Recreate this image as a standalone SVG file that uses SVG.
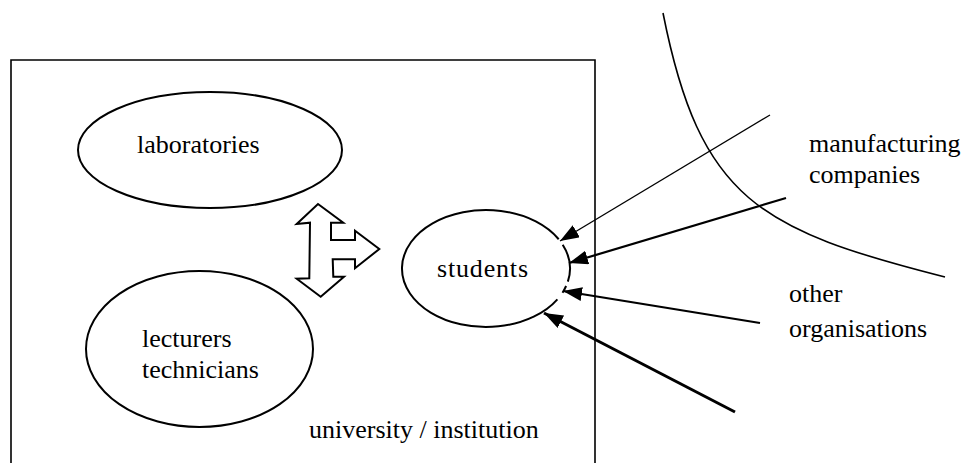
<svg xmlns="http://www.w3.org/2000/svg" width="966" height="463" viewBox="0 0 966 463">
<style>
  .t { font-family: 'Liberation Serif', 'Times New Roman', Times, 'DejaVu Serif', 'Noto Serif', serif; font-size: 26px; fill: #000; }
  .sh { fill: none; stroke: #000; stroke-width: 2; }
  .ln { fill: none; stroke: #000; }
</style>
<defs>
  <marker id="ah" markerUnits="userSpaceOnUse" markerWidth="22" markerHeight="16" refX="19" refY="7" orient="auto">
    <path d="M0,0 L19,7 L0,14 z" fill="#000"/>
  </marker>
</defs>
<rect width="966" height="463" fill="#fff"/>

<g id="university">
  <path class="ln" stroke-width="1.6" d="M11,470 V60 H595 V470"/>
  <text class="t" font-family="Liberation Serif, DejaVu Serif, serif" x="309" y="438">university / institution</text>
</g>

<g id="laboratories">
  <ellipse class="sh" cx="210" cy="150" rx="132" ry="58"/>
  <text class="t" font-family="Liberation Serif, DejaVu Serif, serif" x="137" y="153">laboratories</text>
</g>

<g id="lecturers">
  <ellipse class="sh" cx="199.5" cy="349" rx="113.5" ry="78"/>
  <text class="t" font-family="Liberation Serif, DejaVu Serif, serif" x="142" y="347">lecturers</text>
  <text class="t" font-family="Liberation Serif, DejaVu Serif, serif" x="142" y="378">technicians</text>
</g>

<g id="students">
  <path class="sh" d="M557.4,299.3 A84,58.5 0 1 1 558.7,239.25 M562.7,244.7 A84,58.5 0 0 1 567.85,281.66 M566.1,286 A84,58.5 0 0 1 562.5,292.7"/>
  <text class="t" font-family="Liberation Serif, DejaVu Serif, serif" x="437" y="277" textLength="91">students</text>
</g>

<g id="interaction-arrow">
  <polygon fill="#fff" stroke="#000" stroke-width="2" stroke-linejoin="miter"
    points="318,204 343.3,222.7 331,222.7 331,240 355,240 355,230.7 379.3,249 355,268.3 355,259.3 332.7,259.3 333.3,276.7 344,276.7 320.7,296.7 296.7,278.7 309.3,278.3 310,222.7 296.7,224"/>
</g>

<g id="boundary">
  <path class="ln" stroke-width="1.6" d="M663,13 C700,200 760,230 945,277"/>
</g>

<g id="manufacturing-companies">
  <text class="t" font-family="Liberation Serif, DejaVu Serif, serif" x="809" y="152">manufacturing</text>
  <text class="t" font-family="Liberation Serif, DejaVu Serif, serif" x="809" y="183">companies</text>
</g>

<g id="other-organisations">
  <text class="t" font-family="Liberation Serif, DejaVu Serif, serif" x="789" y="302">other</text>
  <text class="t" font-family="Liberation Serif, DejaVu Serif, serif" x="789" y="337">organisations</text>
</g>

<g id="connectors">
  <line class="ln" stroke-width="1.3" x1="770" y1="115" x2="560" y2="241" marker-end="url(#ah)"/>
  <line class="ln" stroke-width="2.2" x1="786" y1="198" x2="569" y2="263" marker-end="url(#ah)"/>
  <line class="ln" stroke-width="2" x1="760" y1="323" x2="563" y2="291" marker-end="url(#ah)"/>
  <line class="ln" stroke-width="3" x1="735" y1="412" x2="544" y2="313" marker-end="url(#ah)"/>
</g>
</svg>
